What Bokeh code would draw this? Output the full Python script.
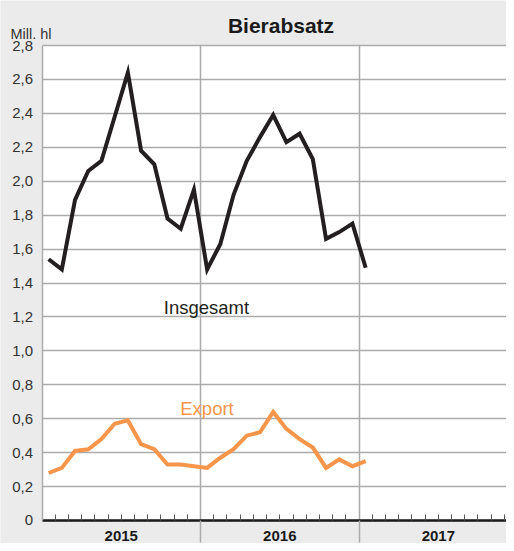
from bokeh.plotting import figure
from bokeh.models import FixedTicker, CustomJSTickFormatter, Range1d
from bokeh.core.properties import value
from bokeh.embed import file_html
from bokeh.resources import INLINE

# Monthly values, Jan 2015 .. Jan 2017 (Mill. hl)
insgesamt = [1.54, 1.48, 1.89, 2.06, 2.12, 2.38, 2.64, 2.18, 2.10, 1.78, 1.72, 1.95,
             1.48, 1.63, 1.92, 2.12, 2.26, 2.39, 2.23, 2.28, 2.13, 1.66, 1.70, 1.75,
             1.49]
export = [0.28, 0.31, 0.41, 0.42, 0.48, 0.57, 0.59, 0.45, 0.42, 0.33, 0.33, 0.32,
          0.31, 0.37, 0.42, 0.50, 0.52, 0.64, 0.54, 0.48, 0.43, 0.31, 0.36, 0.32,
          0.35]
years = ["2015", "2016", "2017"]
year_mid = [6, 18, 30]
y_ticks = [0, 0.2, 0.4, 0.6, 0.8, 1.0, 1.2, 1.4, 1.6, 1.8, 2.0, 2.2, 2.4, 2.6, 2.8]

months = [i + 0.5 for i in range(len(insgesamt))]

BG = "#ebebec"
GRID = "#ababab"
FONT = "Liberation Sans"
X0, X1 = -3.1416, 35.16
Y0, Y1 = -0.1356, 3.0653
YMAX = 2.8

p = figure(width=506, height=543, output_backend="svg", toolbar_location=None,
           x_range=Range1d(X0, X1), y_range=Range1d(Y0, Y1),
           min_border_left=0, min_border_right=0, min_border_top=0,
           min_border_bottom=0)
p.background_fill_color = BG
p.border_fill_color = BG
p.outline_line_color = None

# white plot area
p.quad(left=[0], right=[X1], bottom=[0], top=[YMAX], fill_color="white",
       line_color=None, level="image")

# y axis
p.yaxis.fixed_location = 0
p.yaxis.bounds = (0, YMAX)
p.yaxis.ticker = FixedTicker(ticks=y_ticks)
p.yaxis.formatter = CustomJSTickFormatter(
    code='return tick == 0 ? "0" : tick.toFixed(1).replace(".", ",");')
p.yaxis.major_tick_out = 0
p.yaxis.major_tick_in = 0
p.yaxis.minor_tick_out = 0
p.yaxis.minor_tick_in = 0
p.yaxis.axis_line_color = GRID
p.yaxis.axis_line_width = 1.5
p.yaxis.major_label_standoff = 9
p.yaxis.major_label_text_font = FONT
p.yaxis.major_label_text_font_size = "15px"
p.yaxis.major_label_text_color = "#333333"

# x axis
p.xaxis.fixed_location = 0
p.xaxis.bounds = (0, X1)
p.xaxis.ticker = FixedTicker(ticks=[12, 24],
                             minor_ticks=[m for m in range(1, 36) if m not in (12, 24)])
p.xaxis.formatter = CustomJSTickFormatter(code='return "";')
p.xaxis.major_label_text_font_size = "0px"
p.xaxis.major_label_standoff = 0
p.xaxis.major_tick_out = 22
p.xaxis.major_tick_in = 0
p.xaxis.major_tick_line_color = GRID
p.xaxis.major_tick_line_width = 1.5
p.xaxis.minor_tick_in = 6
p.xaxis.minor_tick_out = 0
p.xaxis.minor_tick_line_color = "#555555"
p.xaxis.axis_line_color = "#1a1a1a"
p.xaxis.axis_line_width = 2.5

p.xgrid.grid_line_color = GRID
p.xgrid.grid_line_width = 1.5
p.xgrid.cross_bounds = (0, YMAX)
p.ygrid.grid_line_color = GRID
p.ygrid.grid_line_width = 1.5
p.ygrid.cross_bounds = (0, X1)

p.line(months, insgesamt, line_color="#231f20", line_width=4, line_join="miter")
p.line(months, export, line_color="#f7964a", line_width=4, line_join="miter")

p.text(x=[12.45], y=[1.2574], text=["Insgesamt"], text_align="center",
       text_baseline="alphabetic", text_font=value(FONT),
       text_font_size=value("18.5px"), text_color="#231f20")
p.text(x=[12.49], y=[0.6602], text=["Export"], text_align="center",
       text_baseline="alphabetic", text_font=value(FONT),
       text_font_size=value("18.5px"), text_color="#f7964a")

p.text(x=[18.09], y=[2.918], text=["Bierabsatz"], text_align="center",
       text_baseline="alphabetic", text_font=value(FONT), text_font_style="bold",
       text_font_size=value("21px"), text_color="#1a1a1a")
p.text(x=[-2.385], y=[2.869], text=["Mill. hl"], text_align="left",
       text_baseline="alphabetic", text_font=value(FONT),
       text_font_size=value("14.5px"), text_color="#333333")

p.text(x=year_mid, y=[-0.0943] * len(years), text=years, text_align="center",
       text_baseline="alphabetic", text_font=value(FONT), text_font_style="bold",
       text_font_size=value("15px"), text_color="#1a1a1a")

open("out.html", "w").write(file_html(p, INLINE))
